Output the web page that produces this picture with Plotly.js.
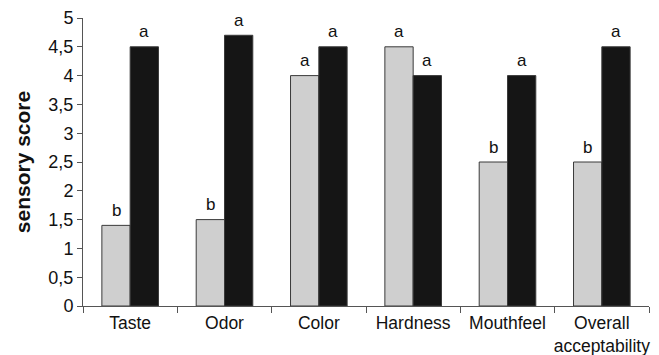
<!DOCTYPE html>
<html>
<head>
<meta charset="utf-8">
<script src="https://cdn.plot.ly/plotly-3.0.1.min.js"></script>
<style>html,body{margin:0;padding:0;background:#fff;}</style>
</head>
<body>
<div id="chart" style="width:659px;height:355px;"></div>
<script>
var categories = ["Taste", "Odor", "Color", "Hardness", "Mouthfeel", "Overall<br>acceptability"];
var greyValues = [1.4, 1.5, 4.0, 4.5, 2.5, 2.5];
var blackValues = [4.5, 4.7, 4.5, 4.0, 4.0, 4.5];
var greyLetters = ["b", "b", "a", "a", "b", "b"];
var blackLetters = ["a", "a", "a", "a", "a", "a"];

var font = "Liberation Sans, Arial, sans-serif";
var W = 659, ml = 83, mr = 10;
var slot = (W - ml - mr) / categories.length;
var bargap = 0.4;
var barW = slot * (1 - bargap) / 2;

var traces = [
  {type: "bar", x: categories, y: greyValues, name: "grey",
   marker: {color: "#cfcfcf", line: {color: "#3a3a3a", width: 1}}},
  {type: "bar", x: categories, y: blackValues, name: "black",
   marker: {color: "#151515", line: {color: "#3a3a3a", width: 1}}}
];

var annotations = [];
categories.forEach(function(c, i) {
  annotations.push({x: c, y: greyValues[i], text: greyLetters[i], showarrow: false,
    xshift: -barW / 2, yshift: 15, font: {family: font, size: 17, color: "#111"}});
  annotations.push({x: c, y: blackValues[i], text: blackLetters[i], showarrow: false,
    xshift: barW / 2, yshift: 15, font: {family: font, size: 17, color: "#111"}});
});

var layout = {
  width: 659, height: 355,
  margin: {l: ml, r: mr, t: 18, b: 49},
  paper_bgcolor: "#fff", plot_bgcolor: "#fff",
  showlegend: false,
  barmode: "group", bargap: bargap, bargroupgap: 0,
  separators: ", ",
  font: {family: font, size: 17, color: "#111"},
  xaxis: {
    type: "category", showgrid: false, showline: true, linecolor: "#555", linewidth: 1,
    ticks: "outside", tickson: "boundaries", ticklen: 6, tickcolor: "#555",
    tickangle: 0, automargin: false, ticklabelstandoff: 1,
    tickfont: {family: font, size: 17.5, color: "#111"}, zeroline: false
  },
  yaxis: {
    range: [0, 5], dtick: 0.5, tick0: 0, showgrid: false, zeroline: false,
    showline: true, linecolor: "#555", linewidth: 1,
    ticks: "outside", ticklen: 5, tickcolor: "#555", automargin: false,
    tickfont: {family: font, size: 18, color: "#111"},
    title: {text: "<b>sensory score</b>", font: {family: font, size: 21, color: "#111"}, standoff: 12}
  },
  annotations: annotations
};

Plotly.newPlot("chart", traces, layout, {displayModeBar: false, staticPlot: true});
</script>
</body>
</html>
